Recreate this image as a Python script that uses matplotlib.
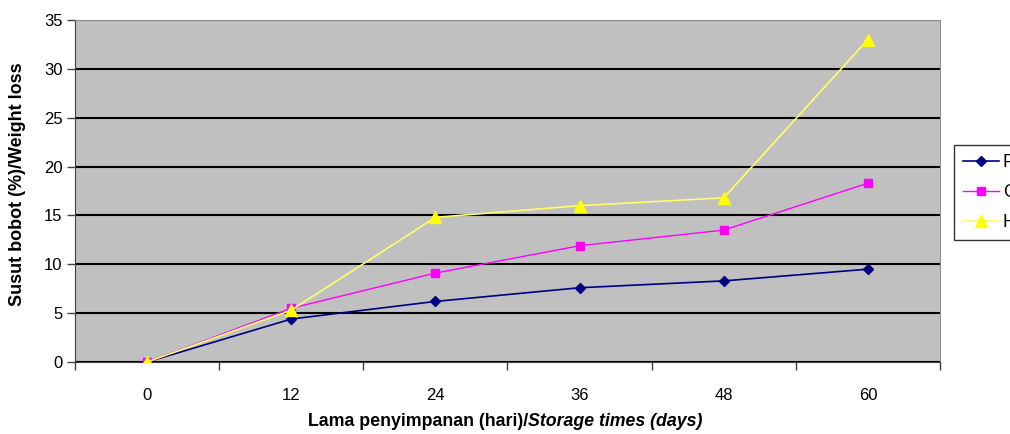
import matplotlib
matplotlib.use("Agg")
import matplotlib.pyplot as plt
from matplotlib.ticker import FixedLocator

plt.rcParams['font.family'] = ['Liberation Sans', 'DejaVu Sans']

# Storage time categories (days) and weight loss (%) per treatment
days = ["0", "12", "24", "36", "48", "60"]
series_labels = ["P", "G", "H"]
loss_p = [0.0, 4.4, 6.2, 7.6, 8.3, 9.5]
loss_g = [0.0, 5.5, 9.1, 11.9, 13.5, 18.3]
loss_h = [0.0, 5.3, 14.8, 16.0, 16.8, 33.0]
y_ticks = [0, 5, 10, 15, 20, 25, 30, 35]

fig = plt.figure(figsize=(10.10, 4.34), dpi=100)
ax = fig.add_axes([75 / 1010, 72 / 434, 865 / 1010, 342 / 434])
ax.set_facecolor("#c0c0c0")

x = list(range(len(days)))
ax.plot(x, loss_p, color="#000080", marker="D", markersize=5.5, lw=1.2,
        label=series_labels[0], zorder=3)
ax.plot(x, loss_g, color="#ff00ff", marker="s", markersize=6, lw=1.0,
        label=series_labels[1], zorder=3)
ax.plot(x, loss_h, color="#ffff66", marker="^", markersize=8, lw=1.2,
        markerfacecolor="#ffff00", markeredgecolor="#ffff00",
        label=series_labels[2], zorder=3)

ax.set_xlim(-0.5, len(days) - 0.5)
ax.set_ylim(0, 35)
ax.set_yticks(y_ticks)
ax.yaxis.grid(True, color="black", lw=1.5)
ax.set_axisbelow(True)

ax.set_xticks(x)
ax.set_xticklabels(days)
ax.xaxis.set_minor_locator(FixedLocator([i - 0.5 for i in range(len(days) + 1)]))
ax.tick_params(axis="x", which="major", length=0, pad=19, labelsize=12)
ax.tick_params(axis="x", which="minor", length=6, width=1, color="#404040")
ax.tick_params(axis="y", length=6, width=1, color="#404040", labelsize=12, pad=3)

for side in ["top", "right"]:
    ax.spines[side].set_color("#909090")
for side in ["left", "bottom"]:
    ax.spines[side].set_color("#404040")

fig.text(18 / 1010, 1 - 184 / 434, "Susut bobot (%)/Weight loss", rotation=90,
         ha="center", va="center", fontsize=13, fontweight="bold")

# Two-part x-axis title (upright + italic), centred as a whole
label_y = 1 - 421 / 434
part1 = fig.text(0, label_y, "Lama penyimpanan (hari)/", ha="left",
                 va="center", fontsize=12.8, fontweight="bold")
part2 = fig.text(0, label_y, "Storage times (days)", ha="left",
                 va="center", fontsize=12.8, fontweight="bold", style="italic")
renderer = fig.canvas.get_renderer()
w1 = part1.get_window_extent(renderer).width
w2 = part2.get_window_extent(renderer).width
start = 505 - (w1 + w2) / 2
part1.set_x(start / 1010)
part2.set_x((start + w1) / 1010)

fig.legend(loc="upper left", bbox_to_anchor=(954 / 1010, 1 - 145 / 434),
           borderaxespad=0, frameon=True, fancybox=False, edgecolor="black",
           fontsize=13, handlelength=2.0, borderpad=0.5, labelspacing=0.72,
           handletextpad=0.2)

fig.savefig("out.png", dpi=100, facecolor="white")
